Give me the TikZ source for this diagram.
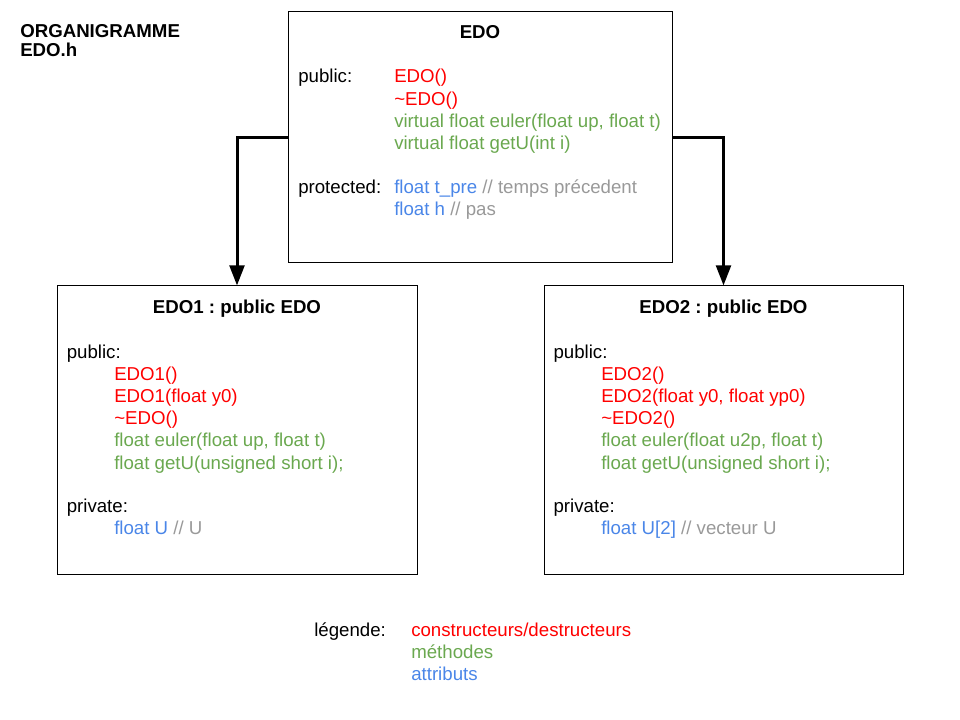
\documentclass[tikz,border=0pt]{standalone}
\usepackage{fontspec}
\setmainfont{Liberation Sans}
\usetikzlibrary{arrows.meta}
\definecolor{ctor}{HTML}{FF0000}
\definecolor{meth}{HTML}{6AA84F}
\definecolor{attr}{HTML}{4A86E8}
\definecolor{comm}{HTML}{999999}
\frenchspacing

\begin{document}
\begin{tikzpicture}[x=0.75pt,y=-0.75pt,
    box/.style={draw,line width=0.75pt,inner sep=0pt},
    txt/.style={anchor=base west,inner sep=0pt,font=\fontsize{14}{16}\selectfont},
    ttl/.style={anchor=base,inner sep=0pt,font=\fontsize{14}{16}\selectfont\bfseries},
    herit/.style={line width=2.25pt,-{Triangle[length=15pt,width=11pt]}}]
\useasboundingbox (0,0) rectangle (960,720);
% titre
\node[txt,font=\fontsize{14}{16}\selectfont\bfseries](tA)at(20,38){ORGANIGRAMME};
\node[txt,font=\fontsize{14}{16}\selectfont\bfseries](tB)at(20,57){EDO.h};
% classe mere
\node[box,minimum width={384*0.75pt},minimum height={251*0.75pt}](edo)at(480,137.5){};
\node[ttl](edoT)at(480,39){EDO};
\node[txt](edoPub)at(298,83){public:};
\node[txt,ctor](e1)at(394,83){EDO()};
\node[txt,ctor](e2)at(394,105.2){\textasciitilde EDO()};
\node[txt,meth](e3)at(394,127.4){virtual float euler(float up, float t)};
\node[txt,meth](e4)at(394,149.6){virtual float getU(int i)};
\node[txt](edoPro)at(298,193.5){protected:};
\node[txt](e5)at(394,193.5){\color{attr}float t\_pre \color{comm}// temps précedent};
\node[txt](e6)at(394,215.7){\color{attr}float h \color{comm}// pas};
% EDO1
\node[box,minimum width={360*0.75pt},minimum height={288*0.75pt}](edo1)at(237,430){};
\node[ttl](edo1T)at(237,313){EDO1 : public EDO};
\node[txt](a0)at(66.5,358){public:};
\node[txt,ctor](a1)at(114,380.2){EDO1()};
\node[txt,ctor](a2)at(114,402.4){EDO1(float y0)};
\node[txt,ctor](a3)at(114,424.6){\textasciitilde EDO()};
\node[txt,meth](a4)at(114,446.8){float euler(float up, float t)};
\node[txt,meth](a5)at(114,469){float getU(unsigned short i);};
\node[txt](a6)at(66.5,512.4){private:};
\node[txt](a7)at(114,534.6){\color{attr}float U \color{comm}// U};
% EDO2
\node[box,minimum width={359*0.75pt},minimum height={288*0.75pt}](edo2)at(723.5,430){};
\node[ttl](edo2T)at(723.5,313){EDO2 : public EDO};
\node[txt](b0)at(553.3,358){public:};
\node[txt,ctor](b1)at(601,380.2){EDO2()};
\node[txt,ctor](b2)at(601,402.4){EDO2(float y0, float yp0)};
\node[txt,ctor](b3)at(601,424.6){\textasciitilde EDO2()};
\node[txt,meth](b4)at(601,446.8){float euler(float u2p, float t)};
\node[txt,meth](b5)at(601,469){float getU(unsigned short i);};
\node[txt](b6)at(553.3,512.4){private:};
\node[txt](b7)at(601,534.6){\color{attr}float U[2] \color{comm}// vecteur U};
% heritage
\draw[herit](edo.west) -| (edo1.north);
\draw[herit](edo.east) -| (edo2.north);
% legende
\node[txt](leg)at(314,636.5){légende:};
\node[txt,ctor](l1)at(411,636.5){constructeurs/destructeurs};
\node[txt,meth](l2)at(411,658.7){méthodes};
\node[txt,attr](l3)at(411,680.9){attributs};
\end{tikzpicture}
\end{document}
